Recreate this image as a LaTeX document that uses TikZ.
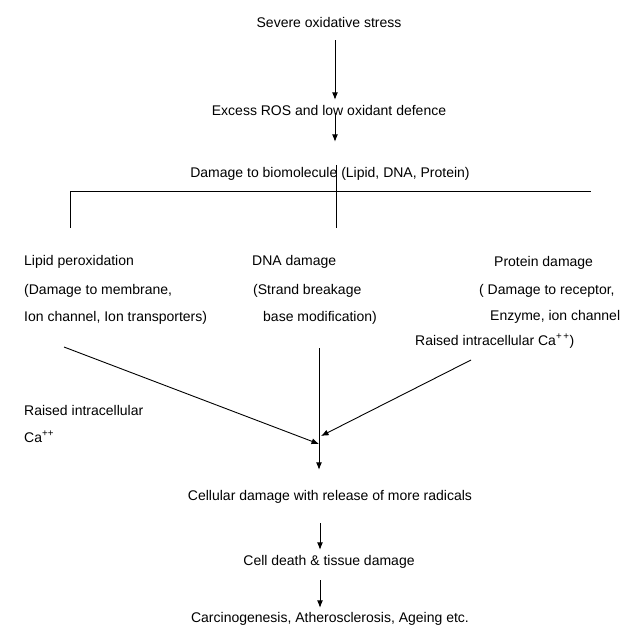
\documentclass[tikz,border=0pt]{standalone}
\usepackage{fontspec}
\setmainfont{Liberation Sans}
\usetikzlibrary{arrows.meta}
\tikzset{
  txt/.style={inner sep=0pt, text height=10.5pt, text depth=3pt, font=\fontsize{14}{16}\selectfont, anchor=base},
  ltxt/.style={txt, anchor=base west},
  link/.style={line width=0.9pt, draw=black},
  arr/.style={link, -{Latex[length=7.5pt,width=6pt]}}
}
\begin{document}
\begin{tikzpicture}[x=1pt,y=-1pt]
\useasboundingbox (0,0) rectangle (627,625);
% axes
\coordinate (spine) at (335,0);
\coordinate (stem) at (336,0);
\coordinate (low) at (319,0);
\coordinate (bot) at (320,0);
\coordinate (brL) at (70,191);
\coordinate (brR) at (591,191);
% texts
\node[txt] (sev) at (329,27) {Severe oxidative stress};
\node[txt] (ros) at (329,115) {Excess ROS and low oxidant defence};
\node[txt] (bio) at (330,177) {Damage to biomolecule (Lipid, DNA, Protein)};
\node[ltxt] (lip1) at (24,265) {Lipid peroxidation};
\node[ltxt] (lip2) at (24,294) {(Damage to membrane,};
\node[ltxt] (lip3) at (24,321) {Ion channel, Ion transporters)};
\node[ltxt] (dna1) at (252,265) {DNA damage};
\node[ltxt] (dna2) at (253,294) {(Strand breakage};
\node[ltxt] (dna3) at (263,321) {base modification)};
\node[ltxt] (pro1) at (494,266) {Protein damage};
\node[ltxt] (pro2) at (479,294) {( Damage to receptor,};
\node[ltxt] (pro3) at (490,320) {Enzyme, ion channel};
\node[ltxt] (pro4) at (415,345) {Raised intracellular Ca\textsuperscript{+\,+})};
\node[ltxt] (ca1) at (24,415) {Raised intracellular};
\node[ltxt] (ca2) at (24,442) {Ca\textsuperscript{++}};
\node[txt] (cell) at (330,500) {Cellular damage with release of more radicals};
\node[txt] (death) at (329,565) {Cell death \&\ tissue damage};
\node[txt] (carc) at (330,622) {Carcinogenesis, Atherosclerosis, Ageing etc.};
% free ends
\coordinate (lstart) at (64,347);
\coordinate (rstart) at (471,360);
\coordinate (mL) at (319,444);
\coordinate (mR) at (321,436);
% connectors
\draw[arr, shorten <=10pt, shorten >=4.5pt] (sev.south -| spine) -- (ros.north -| spine);
\draw[arr, shorten <=1.75pt, shorten >=24.5pt] (ros.center -| spine) -- (bio.north -| spine);
\draw[link, shorten <=26.5pt] (lip1.north -| brL) -- (brL) -- (brR);
\draw[link, shorten <=-1.5pt, shorten >=26.5pt] (bio.north -| stem) -- (dna1.north -| stem);
\draw[arr] (lstart) -- (mL);
\draw[arr] (rstart) -- (mR);
\draw[arr, shorten <=24pt, shorten >=19.5pt] (dna3.south -| low) -- (cell.north -| low);
\draw[arr, shorten <=20pt, shorten >=4.5pt] (cell.south -| bot) -- (death.north -| bot);
\draw[arr, shorten <=12pt, shorten >=3.5pt] (death.south -| bot) -- (carc.north -| bot);
\end{tikzpicture}
\end{document}
